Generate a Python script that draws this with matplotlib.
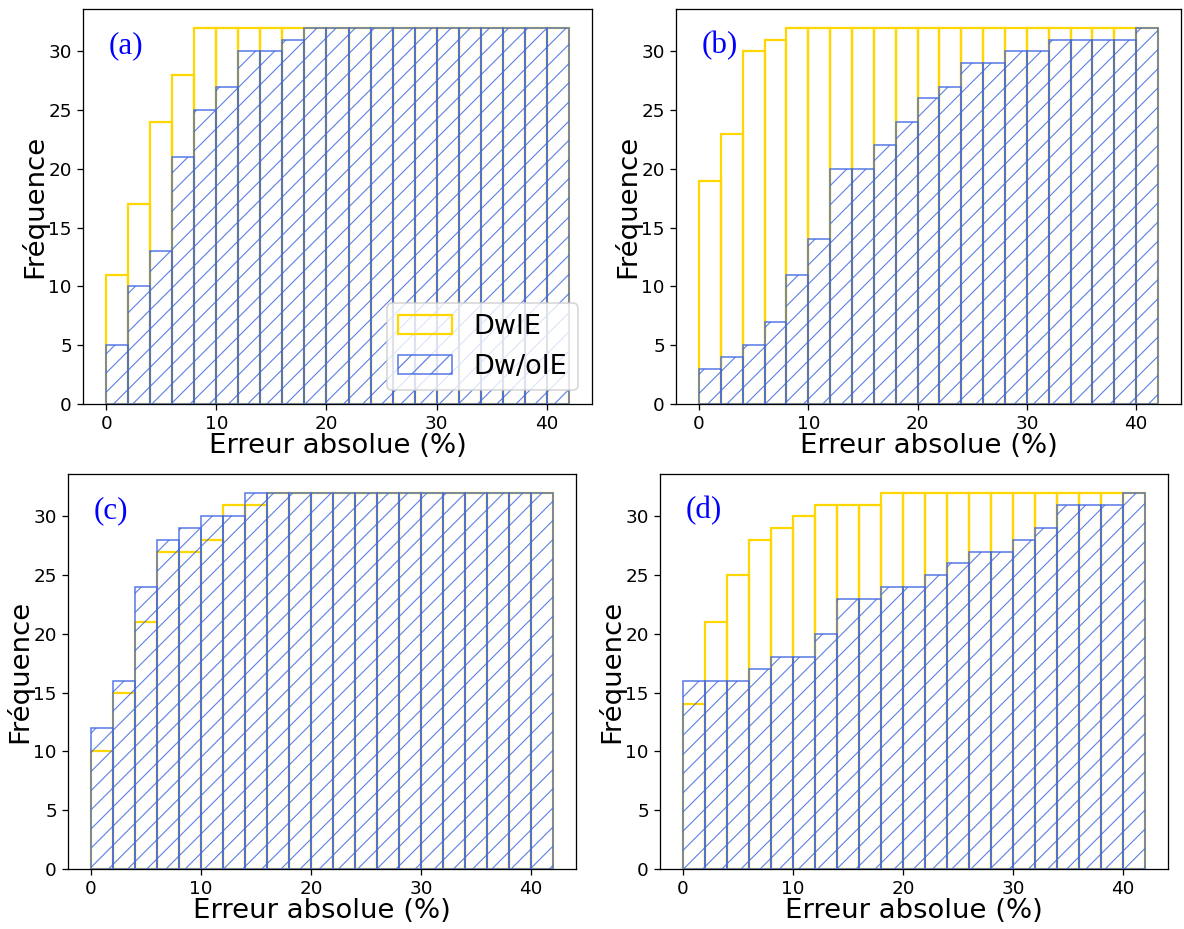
import numpy as np
import matplotlib
matplotlib.use("Agg")
import matplotlib.pyplot as plt

bin_edges = list(range(0, 44, 2))  # 0..42

a_with = [11, 17, 24, 28] + [32] * 17
a_without = [5, 10, 13, 21, 25, 27, 30, 30, 31] + [32] * 12

b_with = [19, 23, 30, 31] + [32] * 17
b_without = [3, 4, 5, 7, 11, 14, 20, 20, 22, 24, 26, 27, 29, 29, 30, 30, 31, 31, 31, 31, 32]

c_with = [10, 15, 21, 27, 27, 28, 31, 31] + [32] * 13
c_without = [12, 16, 24, 28, 29, 30, 30, 32] + [32] * 13

d_with = [14, 21, 25, 28, 29, 30, 31, 31, 31] + [32] * 12
d_without = [16, 16, 16, 17, 18, 18, 20, 23, 23, 24, 24, 25, 26, 27, 27, 28, 29, 31, 31, 31, 32]

panel_tags = ["(a)", "(b)", "(c)", "(d)"]
series_with = [a_with, b_with, c_with, d_with]
series_without = [a_without, b_without, c_without, d_without]

labels = ["DwIE", "Dw/oIE"]
yellow = "#FFD700"
blue = "#4169E1"

W, H, DPI = 1184, 929, 115
plt.rcParams["hatch.linewidth"] = 0.7
fig = plt.figure(figsize=(W / DPI, H / DPI), dpi=DPI)

# axes boxes in pixels: left, right, top, bottom
boxes = [(83, 592, 9, 404), (676, 1181, 9, 404), (68, 576, 474, 869), (660, 1168, 474, 869)]

left_edges = np.array(bin_edges[:-1], dtype=float)
axes = []
for (l, r, t, b), tag, w, wo in zip(boxes, panel_tags, series_with, series_without):
    ax = fig.add_axes([l / W, (H - b) / H, (r - l) / W, (b - t) / H])
    axes.append(ax)
    ax.hist(left_edges, bins=bin_edges, weights=w, histtype="bar",
            fill=False, edgecolor=yellow, linewidth=1.4, label=labels[0], zorder=2)
    ax.hist(left_edges, bins=bin_edges, weights=wo, histtype="bar",
            fill=False, edgecolor=blue, hatch="//", linewidth=1.0, alpha=0.85,
            label=labels[1], zorder=3)
    ax.set_xlabel("Erreur absolue (%)", fontsize=17.2, labelpad=0)
    ax.set_ylabel("Fréquence", fontsize=17.2, labelpad=0)
    ax.tick_params(labelsize=11.5)
    ax.set_xticks([0, 10, 20, 30, 40])
    ax.set_yticks([0, 5, 10, 15, 20, 25, 30])
    ax.text(0.05, 0.887, tag, transform=ax.transAxes, color="blue",
            fontsize=19.5, family=["Liberation Serif", "DejaVu Serif"], va="baseline")

axes[0].legend(loc="lower right", fontsize=17)
fig.savefig("out.png", dpi=DPI)
